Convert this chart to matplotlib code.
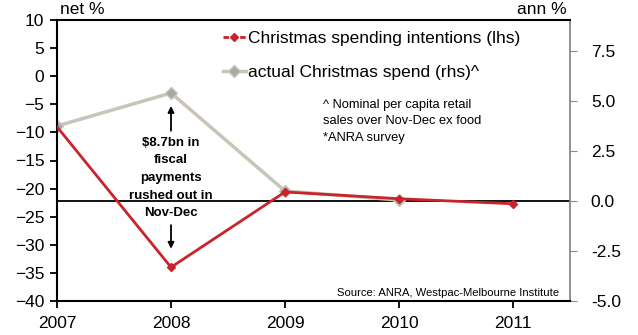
import matplotlib.pyplot as plt
from matplotlib.lines import Line2D

plt.rcParams['font.family'] = ['Liberation Sans', 'DejaVu Sans']

years_lhs = [2007, 2008, 2009, 2010, 2011]
intentions = [-9.0, -34.0, -20.6, -21.8, -22.7]   # net %, lhs
years_rhs = [2007, 2008, 2009, 2010]
actual = [3.75, 5.4, 0.5, 0.05]                    # ann %, rhs

x_ticks = [2007, 2008, 2009, 2010, 2011]
lhs_ticks = [10, 5, 0, -5, -10, -15, -20, -25, -30, -35, -40]
rhs_ticks = [7.5, 5.0, 2.5, 0.0, -2.5, -5.0]

RED = "#C9232B"
BEIGE = "#C9C4B8"
GREY_MK = "#A8A8A8"

fig = plt.figure(figsize=(6.38, 3.35), dpi=100)
ax = fig.add_axes([57 / 638, 1 - 301 / 335, (570 - 57) / 638, (301 - 20) / 335])
ax2 = ax.twinx()

ax.set_xlim(2007, 2011.5)
ax.set_ylim(-40, 10)
ax2.set_ylim(-5, 9.05)

ax.set_zorder(ax2.get_zorder() + 1)
ax.patch.set_visible(False)

ax2.axhline(0, color="black", lw=1.3, zorder=1)
ax2.plot(years_rhs, actual, color=BEIGE, lw=2.5, marker="D", ms=6,
         mfc=GREY_MK, mec=BEIGE, zorder=2)
ax.plot(years_lhs, intentions, color=RED, lw=2, zorder=3)
ax.plot(years_lhs[1:], intentions[1:], ls="none", marker="D", ms=4,
        color=RED, zorder=4)

ax.set_xticks(x_ticks)
ax.set_yticks(lhs_ticks)
ax2.set_yticks(rhs_ticks)
ax2.set_yticklabels([f"{v:.1f}" for v in rhs_ticks])

for a in (ax, ax2):
    a.tick_params(labelsize=12.5, length=5, direction="out")
ax.tick_params(axis="y", pad=4, width=1.3)
ax.tick_params(axis="x", pad=6, width=1.3)
ax2.tick_params(axis="y", colors="#888888", labelcolor="black", pad=10)

for s in ["left", "bottom", "top"]:
    ax.spines[s].set_linewidth(1.5)
ax.spines["right"].set_visible(False)
ax2.spines["right"].set_color("#888888")
ax2.spines["right"].set_linewidth(1.3)
for s in ["left", "bottom", "top"]:
    ax2.spines[s].set_visible(False)

fig.text(60 / 638, 1 - 9 / 335, "net %", fontsize=12.5, va="center")
fig.text(567 / 638, 1 - 9 / 335, "ann %", fontsize=12.5, va="center", ha="right")

handles = [
    Line2D([], [], color=RED, lw=2, ls=(0, (2, 1)), marker="D", ms=4),
    Line2D([], [], color=BEIGE, lw=2.5, marker="D", ms=6, mfc=GREY_MK, mec=BEIGE),
]
labels = ["Christmas spending intentions (lhs)", "actual Christmas spend (rhs)^"]
ax.legend(handles, labels, loc="upper left", bbox_to_anchor=(0.31, 0.985),
          frameon=False, fontsize=12.5, handlelength=1.3, handletextpad=0.15,
          labelspacing=1.05, borderaxespad=0)

ax.text(2007.0 + (323 - 57) / 114, -4.0,
        "^ Nominal per capita retail\nsales over Nov-Dec ex food\n*ANRA survey",
        fontsize=9.3, va="top", ha="left", linespacing=1.5)

ax.text(2008, -18.1, "$8.7bn in\nfiscal\npayments\nrushed out in\nNov-Dec",
        fontsize=9.5, fontweight="bold", ha="center", va="center",
        linespacing=1.62)
ax.annotate("", xy=(2008, -4.8), xytext=(2008, -10.2),
            arrowprops=dict(arrowstyle="-|>", color="black", lw=1.3,
                            mutation_scale=9))
ax.annotate("", xy=(2008, -31.2), xytext=(2008, -26.0),
            arrowprops=dict(arrowstyle="-|>", color="black", lw=1.3,
                            mutation_scale=9))

ax.text(0.978, 0.012, "Source: ANRA, Westpac-Melbourne Institute",
        transform=ax.transAxes, fontsize=8.1, ha="right", va="bottom")

fig.savefig("out.png", dpi=100)
